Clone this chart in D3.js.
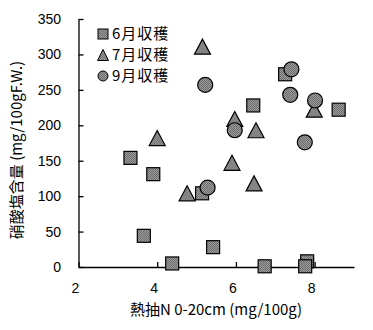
<!DOCTYPE html>
<html>
<head>
<meta charset="utf-8">
<script src="https://cdn.jsdelivr.net/npm/d3@7"></script>
<style>
  html, body { margin: 0; padding: 0; background: #fff; }
  svg { display: block; }
  text { font-family: "Noto Sans CJK JP", "Noto Sans", sans-serif; fill: #000; }
  text.num { font-family: "Liberation Sans", "Noto Sans", sans-serif; }
</style>
</head>
<body>
<svg id="chart" width="373" height="330"></svg>
<script>
// Harvest series: heat-extracted N (0-20cm, mg/100g) vs nitrate content (mg/100gF.W.)
const juneX = [3.32, 3.90, 3.66, 4.38, 5.42, 5.14, 6.44, 7.25, 8.61, 6.73, 7.81, 7.76];
const juneY = [154, 131, 44, 5, 28, 104, 228, 272, 222, 1, 8, 1];

const julyX = [4.00, 5.15, 4.76, 5.97, 6.51, 5.90, 6.46, 7.99];
const julyY = [182, 311, 104, 209, 193, 147, 118, 222];

const septX = [5.22, 5.97, 5.28, 7.41, 7.38, 8.01, 7.75];
const septY = [257, 193, 112, 279, 243, 235, 176];

const seriesNames = ["6月収穫", "7月収穫", "9月収穫"];
const xTicks = [2, 4, 6, 8];
const yTicks = [0, 50, 100, 150, 200, 250, 300, 350];

const xTitle = "熱抽N 0-20cm (mg/100g)";
const yTitle = "硝酸塩含量 (mg/100gF.W.)";

const svg = d3.select("#chart");

// dithered grey fill used by every marker
const defs = svg.append("defs");
const pat = defs.append("pattern")
  .attr("id", "dither").attr("width", 2).attr("height", 2)
  .attr("patternUnits", "userSpaceOnUse");
pat.append("rect").attr("width", 2).attr("height", 2).attr("fill", "#9a9a9a");
pat.append("rect").attr("width", 1).attr("height", 1).attr("fill", "#6e6e6e");
pat.append("rect").attr("x", 1).attr("y", 1).attr("width", 1).attr("height", 1).attr("fill", "#6e6e6e");

const x = d3.scaleLinear().domain([2, 9]).range([78.5, 354]);
const y = d3.scaleLinear().domain([0, 350]).range([267, 19]);

// axes with inward ticks
svg.append("g")
  .attr("transform", `translate(0,${y(0)})`)
  .call(d3.axisTop(x).tickValues(xTicks).tickSize(5).tickSizeOuter(0).tickFormat(""));
svg.append("g")
  .attr("transform", `translate(${x(2)},0)`)
  .call(d3.axisRight(y).tickValues(yTicks).tickSize(5).tickSizeOuter(0).tickFormat(""));
svg.selectAll(".domain, .tick line").attr("stroke", "#000").attr("stroke-width", 1.3);

// tick labels
svg.append("g").selectAll("text").data(xTicks).join("text")
  .attr("class", "num")
  .attr("x", d => x(d) - 3).attr("y", 293)
  .attr("text-anchor", "middle").attr("font-size", 14)
  .text(d => d);
svg.append("g").selectAll("text").data(yTicks).join("text")
  .attr("class", "num")
  .attr("x", 61).attr("y", d => y(d)).attr("dy", "0.36em")
  .attr("text-anchor", "end").attr("font-size", 14)
  .text(d => d);

// axis titles
svg.append("text")
  .attr("x", 216).attr("y", 314.5)
  .attr("text-anchor", "middle").attr("font-size", 15)
  .text(xTitle);
svg.append("text")
  .attr("transform", "translate(22,150) rotate(-90)")
  .attr("text-anchor", "middle").attr("font-size", 15)
  .text(yTitle);

// marker shapes
function trianglePath(w, h) {
  return `M0,${-h / 2}L${w / 2},${h / 2}L${-w / 2},${h / 2}Z`;
}
function drawSquares(g, xs, ys, s) {
  g.selectAll(null).data(xs.map((v, i) => [v, ys[i]])).join("rect")
    .attr("x", d => x(d[0]) - s / 2).attr("y", d => y(d[1]) - s / 2)
    .attr("width", s).attr("height", s)
    .attr("fill", "url(#dither)").attr("stroke", "#000").attr("stroke-width", 1.2);
}
function drawTriangles(g, xs, ys, w, h) {
  g.selectAll(null).data(xs.map((v, i) => [v, ys[i]])).join("path")
    .attr("d", trianglePath(w, h))
    .attr("transform", d => `translate(${x(d[0])},${y(d[1])})`)
    .attr("fill", "url(#dither)").attr("stroke", "#000").attr("stroke-width", 1.2);
}
function drawCircles(g, xs, ys, r) {
  g.selectAll(null).data(xs.map((v, i) => [v, ys[i]])).join("circle")
    .attr("cx", d => x(d[0])).attr("cy", d => y(d[1])).attr("r", r)
    .attr("fill", "url(#dither)").attr("stroke", "#000").attr("stroke-width", 1.2);
}

const marks = svg.append("g");
drawSquares(marks.append("g"), juneX, juneY, 13);
drawTriangles(marks.append("g"), julyX, julyY, 16, 15);
drawCircles(marks.append("g"), septX, septY, 7.5);

// legend
const legend = svg.append("g");
const legendRows = [34, 55, 76];
legend.append("rect").attr("x", 98).attr("y", legendRows[0] - 5).attr("width", 10).attr("height", 10)
  .attr("fill", "url(#dither)").attr("stroke", "#000").attr("stroke-width", 1);
legend.append("path").attr("d", trianglePath(11, 11))
  .attr("transform", `translate(103,${legendRows[1]})`)
  .attr("fill", "url(#dither)").attr("stroke", "#000").attr("stroke-width", 1);
legend.append("circle").attr("cx", 103).attr("cy", legendRows[2]).attr("r", 5)
  .attr("fill", "url(#dither)").attr("stroke", "#000").attr("stroke-width", 1);
legend.selectAll("text.lab").data(seriesNames).join("text")
  .attr("class", "lab")
  .attr("x", 112).attr("y", (d, i) => legendRows[i]).attr("dy", "0.36em")
  .attr("font-size", 15).attr("letter-spacing", 1)
  .text(d => d);
</script>
</body>
</html>
